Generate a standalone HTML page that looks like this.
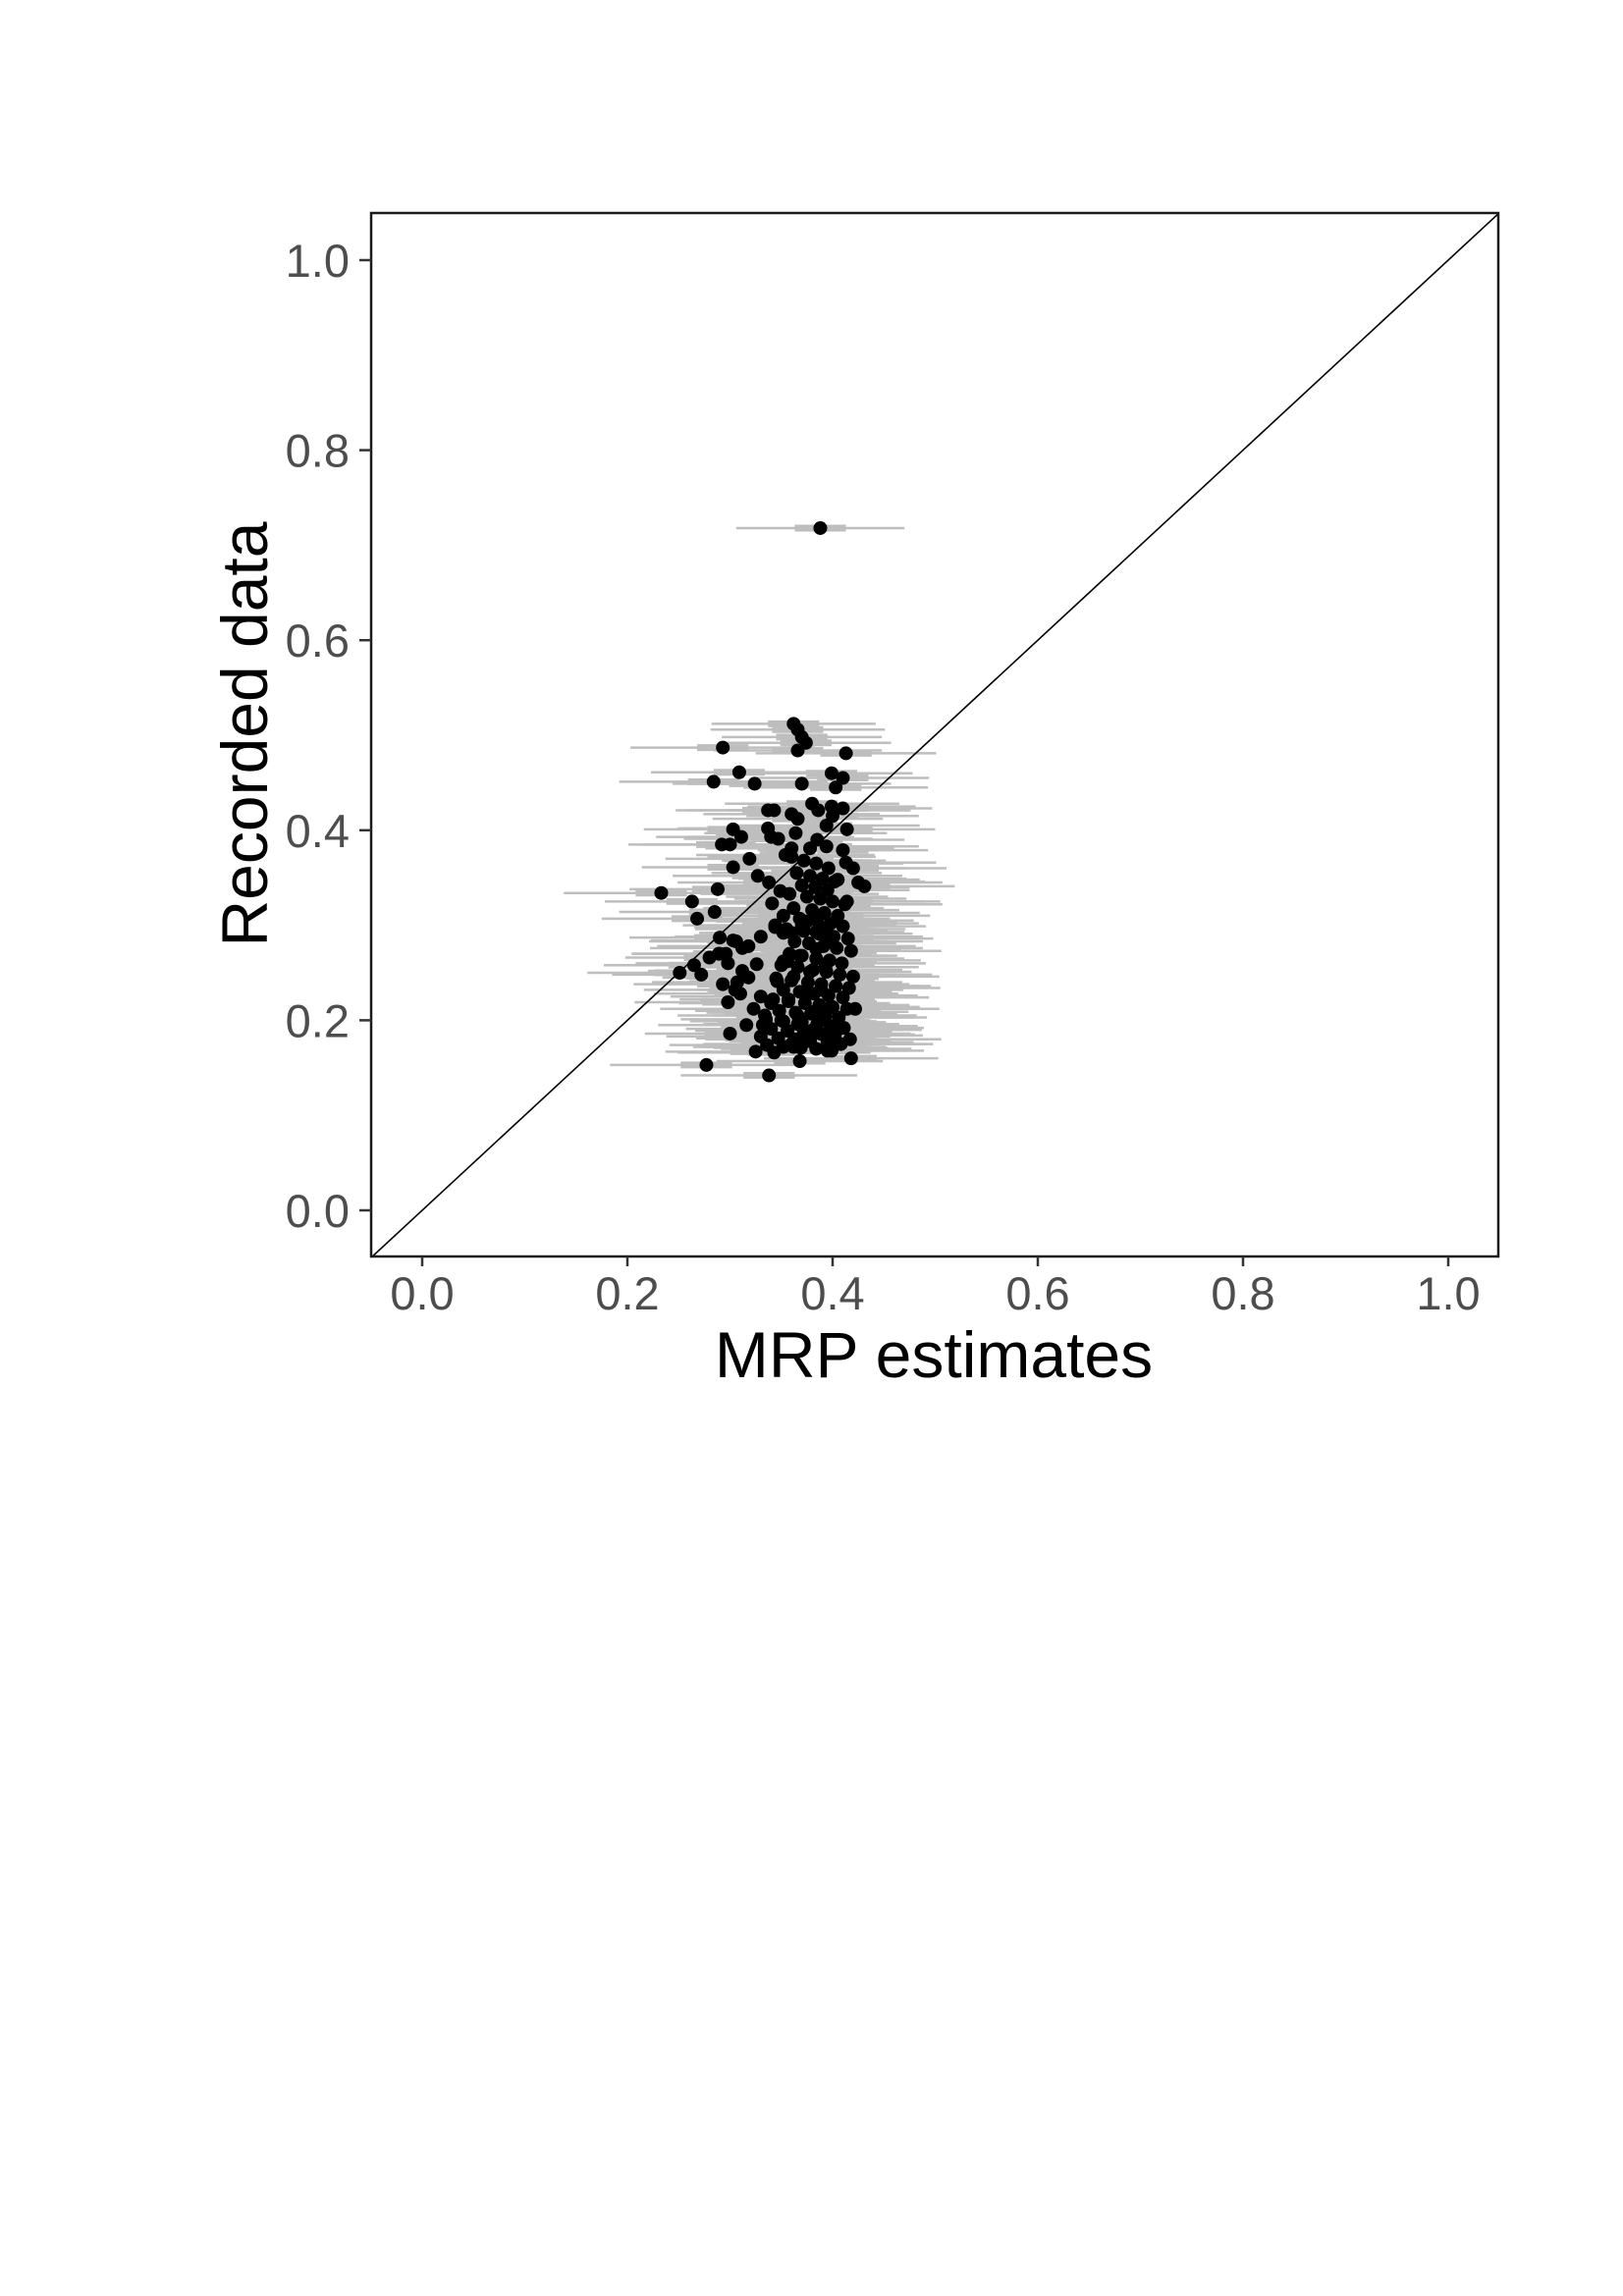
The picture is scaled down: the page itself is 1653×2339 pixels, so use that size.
<!DOCTYPE html>
<html><head><meta charset="utf-8"><style>
html,body{margin:0;padding:0;background:#fff;}
svg{display:block;}
</style></head><body>
<svg id="chart" width="1653" height="2339" viewBox="0 0 1653 2339" xmlns="http://www.w3.org/2000/svg">
<rect x="0" y="0" width="1653" height="2339" fill="#fff"/>
<defs><clipPath id="pc"><rect x="378" y="217" width="1148" height="1063"/></clipPath></defs>
<g id="bars" clip-path="url(#pc)"></g>
<g id="diag" clip-path="url(#pc)"></g>
<g id="pts" clip-path="url(#pc)"></g>
<rect x="378" y="217" width="1148" height="1063" fill="none" stroke="#1a1a1a" stroke-width="2.5"/>
<g id="axes"></g>
<text x="951" y="1403" font-family="Liberation Sans, sans-serif" font-size="66" text-anchor="middle" fill="#000">MRP estimates</text>
<text transform="translate(272,748) rotate(-90)" font-family="Liberation Sans, sans-serif" font-size="66" text-anchor="middle" fill="#000">Recorded data</text>
</svg>
<script>
const tickValues=[0,0.2,0.4,0.6,0.8,1.0];
const tickLabels=["0.0","0.2","0.4","0.6","0.8","1.0"];
const estX=[0.388,0.362,0.366,0.370,0.374,0.293,0.366,0.413,0.309,0.284,0.324,0.370,0.399,0.410,0.403,0.233,0.431,0.263,0.268,0.251,0.265,0.277,0.338,0.368,0.417,0.422,0.298,0.293,0.307,0.312,0.326,0.298,0.289,0.290,0.303,0.285,0.288,0.303,0.319,0.292,0.300,0.303,0.311,0.337,0.343,0.337,0.340,0.347,0.360,0.366,0.364,0.380,0.386,0.399,0.410,0.400,0.394,0.414,0.410,0.413,0.385,0.394,0.378,0.354,0.360,0.338,0.349,0.341,0.414,
0.360,0.372,0.384,0.396,0.365,0.378,0.390,0.402,0.370,0.383,0.395,0.358,0.375,0.388,0.400,0.412,0.362,0.380,0.392,0.405,0.368,0.385,0.398,0.410,0.355,0.372,0.387,0.401,0.415,0.363,0.377,0.391,0.404,0.418,0.358,0.370,0.384,0.397,0.409,0.350,0.366,0.381,0.394,0.407,0.420,0.345,0.360,0.376,0.389,0.403,0.416,0.352,0.368,0.382,0.396,0.410,0.342,0.357,0.373,0.387,0.400,0.414,0.348,0.364,0.379,0.393,0.406,0.335,0.352,0.370,0.385,0.398,0.411,0.340,0.356,0.372,0.388,0.402,0.330,0.347,0.363,0.378,0.395,0.408,0.336,0.352,0.369,0.384,0.399,0.325,0.343,0.360,0.376,0.391,0.405,0.332,0.350,0.366,0.382,0.397,0.340,0.357,0.373,0.389,0.403,0.346,0.362,0.378,0.393,0.352,0.368,0.384,0.398,0.360,0.375,0.390,0.370,0.384,0.395,
0.318,0.306,0.296,0.280,0.272,0.310,0.323,0.316,0.300,0.330,0.334,0.344,0.352,0.356,0.318,0.305,0.290,0.327,0.420,0.425,0.405,0.418,0.395,0.408,0.362,0.374,0.381,0.392,0.366,0.378,0.352,0.344,0.330,0.312,0.322,0.398,0.388,0.409,0.415];
const recY=[0.718,0.512,0.506,0.498,0.492,0.487,0.484,0.481,0.461,0.451,0.449,0.449,0.460,0.455,0.445,0.334,0.341,0.325,0.307,0.250,0.258,0.153,0.142,0.157,0.180,0.212,0.219,0.238,0.240,0.252,0.259,0.260,0.270,0.287,0.284,0.314,0.338,0.361,0.370,0.385,0.385,0.401,0.393,0.421,0.421,0.402,0.393,0.391,0.417,0.412,0.397,0.428,0.421,0.425,0.423,0.415,0.405,0.401,0.379,0.366,0.390,0.383,0.381,0.374,0.381,0.345,0.336,0.323,0.325,
0.372,0.368,0.365,0.360,0.355,0.352,0.349,0.346,0.342,0.340,0.337,0.333,0.330,0.328,0.325,0.322,0.318,0.316,0.313,0.310,0.307,0.305,0.302,0.299,0.296,0.294,0.291,0.288,0.286,0.283,0.281,0.278,0.276,0.273,0.270,0.268,0.265,0.263,0.260,0.258,0.256,0.253,0.251,0.248,0.246,0.244,0.242,0.240,0.238,0.236,0.234,0.232,0.230,0.228,0.226,0.224,0.222,0.220,0.218,0.216,0.214,0.212,0.210,0.208,0.207,0.205,0.203,0.201,0.199,0.198,0.196,0.194,0.192,0.191,0.189,0.188,0.186,0.184,0.183,0.181,0.180,0.178,0.177,0.175,0.174,0.172,0.171,0.170,0.168,0.167,0.166,0.175,0.179,0.185,0.190,0.195,0.200,0.205,0.209,0.213,0.218,0.222,0.227,0.232,0.236,0.241,0.246,0.251,0.256,0.262,0.268,0.275,0.283,0.292,
0.304,0.296,0.300,0.293,0.291,0.278,0.283,0.270,0.266,0.248,0.228,0.212,0.195,0.186,0.225,0.205,0.300,0.292,0.262,0.245,0.232,0.270,0.352,0.360,0.345,0.348,0.160,0.168,0.175,0.172,0.183,0.190,0.203,0.196,0.188,0.310,0.298,0.288,0.276];
const ciHalf=[0.082,0.080,0.085,0.078,0.083,0.090,0.082,0.088,0.086,0.092,0.080,0.087,0.079,0.084,0.090,0.095,0.088,0.085,0.093,0.090,0.088,0.094,0.086,0.081,0.089,0.082,0.091,0.087,0.083,0.092,0.085,0.090,0.084,0.088,0.080,0.093,0.086,0.089,0.082,0.091,0.085,0.087,0.083,0.090,0.084,0.088,0.081,0.092,0.086,0.083,0.089,0.085,0.090,0.082,0.087,0.084,0.091,0.086,0.083,0.088,0.085,0.090,0.082,0.087,0.084,0.089,0.086,0.083,0.091];
const thickHalf=0.025;
const X0=430, XS=1045, Y0=1233, YS=968;
function sx(v){return X0+v*XS;}
function sy(v){return Y0-v*YS;}
const NS='http://www.w3.org/2000/svg';
function mk(tag,attrs,parent){const e=document.createElementNS(NS,tag);for(const k in attrs)e.setAttribute(k,attrs[k]);parent.appendChild(e);return e;}
const bars=document.getElementById('bars'),pts=document.getElementById('pts'),axes=document.getElementById('axes'),diag=document.getElementById('diag');
for(let i=0;i<estX.length;i++){
  const h=ciHalf[i%ciHalf.length];
  const y=sy(recY[i]);
  const l=mk('line',{x1:sx(estX[i]-h),x2:sx(estX[i]+h),y1:y,y2:y,stroke:'#bebebe','stroke-width':2.5},bars);
  
  
  const t=mk('line',{x1:sx(estX[i]-thickHalf),x2:sx(estX[i]+thickHalf),y1:y,y2:y,stroke:'#bebebe','stroke-width':7},bars);
  
  
}
const dl=mk('line',{x1:sx(-0.05),y1:sy(-0.05),x2:sx(1.05),y2:sy(1.05),stroke:'#000','stroke-width':1.6},diag);


for(let i=0;i<estX.length;i++){
  const c=mk('circle',{cx:sx(estX[i]),cy:sy(recY[i]),r:7,fill:'#000'},pts);
  
  
}
for(let i=0;i<tickValues.length;i++){
  const x=sx(tickValues[i]), y=sy(tickValues[i]);
  const a=mk('line',{x1:x,x2:x,y1:1280,y2:1290,stroke:'#333','stroke-width':2.5},axes);
  
  
  const b=mk('text',{x:x,y:1334,'font-family':'Liberation Sans, sans-serif','font-size':47,'text-anchor':'middle',fill:'#4d4d4d'},axes);
  b.textContent=tickLabels[i];
  
  
  const c=mk('line',{x1:366,x2:378,y1:y,y2:y,stroke:'#333','stroke-width':2.5},axes);
  
  
  const d=mk('text',{x:356,y:y+17,'font-family':'Liberation Sans, sans-serif','font-size':47,'text-anchor':'end',fill:'#4d4d4d'},axes);
  d.textContent=tickLabels[i];
  
  
}
</script>
</body></html>
